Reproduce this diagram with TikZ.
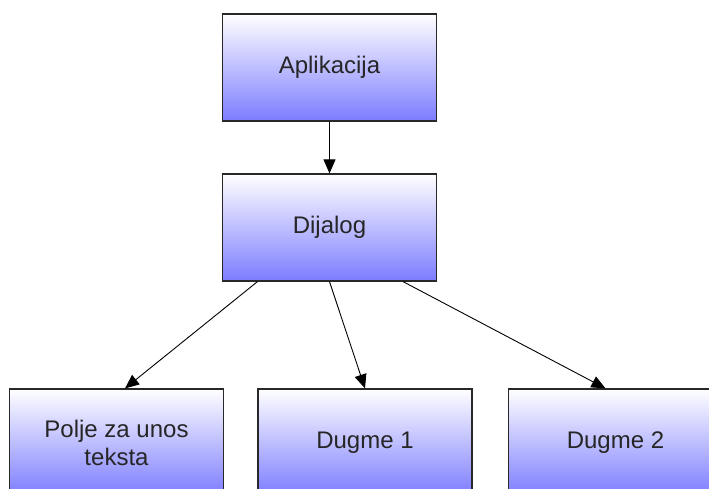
\documentclass[tikz,border=0pt]{standalone}
\usepackage{fontspec}
\setmainfont{Liberation Sans}
\usetikzlibrary{arrows.meta,calc}
\definecolor{boxblue}{RGB}{124,124,255}
\definecolor{boxline}{RGB}{40,40,40}
\tikzset{
  block/.style={draw=boxline, line width=1.2pt, top color=white, bottom color=boxblue,
    minimum width=214pt, minimum height=107pt, inner sep=0pt, align=center,
    font=\fontsize{24}{28}\selectfont, text=black!85},
  link/.style={draw=black, line width=0.9pt, -{Triangle[length=14pt,width=12pt]}, shorten >=0pt}
}
\begin{document}
\begin{tikzpicture}[x=1pt,y=-1pt]
  \useasboundingbox (0,0) rectangle (709,489);
  \clip (0,0) rectangle (709,489);
  \node[block] (app) at (329.5,67.5) {Aplikacija};
  \node[block] (dij) at (329.5,227.5) {Dijalog};
  \node[block] (txt) at (116.5,442.5) {Polje za unos\\teksta};
  \node[block] (b1)  at (365,442.5) {Dugme 1};
  \node[block] (b2)  at (615.5,442.5) {Dugme 2};

  \draw[link] (app.south) -- (dij.north);
  \draw[link] ($(dij.south)+(-72,0)$) -- ($(txt.north)+(8.5,0)$);
  \draw[link] (dij.south) -- (b1.north);
  \draw[link] ($(dij.south)+(73.5,0)$) -- ($(b2.north)+(-10,0)$);
\end{tikzpicture}
\end{document}
